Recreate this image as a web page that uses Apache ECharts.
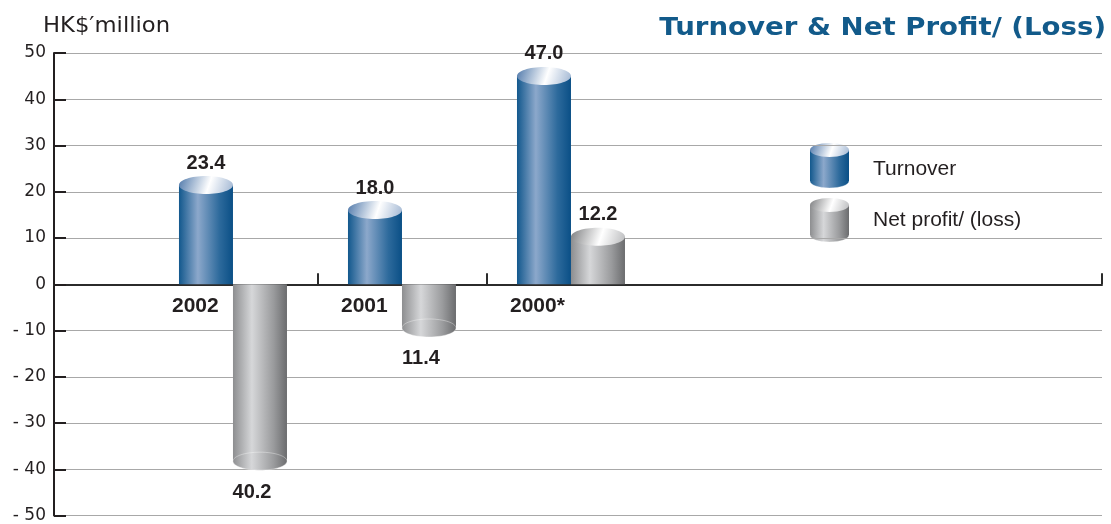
<!DOCTYPE html>
<html>
<head>
<meta charset="utf-8">
<script src="https://cdn.jsdelivr.net/npm/echarts@6/dist/echarts.min.js"></script>
<style>
  html, body { margin: 0; padding: 0; background: #fff; }
  #chart { width: 1111px; height: 524px; }
</style>
</head>
<body>
<div id="chart"></div>
<script>
// data (HK$ million)
const years = ["2002", "2001", "2000*"];
const turnover = [23.4, 18.0, 47.0];
const netProfit = [-40.2, -11.4, 12.2];
const yTicks = [-50, -40, -30, -20, -10, 0, 10, 20, 30, 40, 50];

// layout: each year slot is one unit on the x axis, blank room on the right holds the legend
const X_MIN = -1.059;
const X_MAX = 5.142;
const BAR_RATIO = 54 / 169;
const TEXT = "#231f20";

const BLUE = {
  body: [
    { offset: 0, color: "#12588d" },
    { offset: 0.35, color: "#8ca8cb" },
    { offset: 0.75, color: "#2d6a9c" },
    { offset: 1, color: "#0a4f86" }
  ],
  top: [
    { offset: 0, color: "#4f78aa" },
    { offset: 0.55, color: "#ffffff" },
    { offset: 1, color: "#9fb5d2" }
  ]
};
const GREY = {
  body: [
    { offset: 0, color: "#8d8e90" },
    { offset: 0.35, color: "#d6d7d9" },
    { offset: 0.75, color: "#9a9b9d" },
    { offset: 1, color: "#6b6c6e" }
  ],
  top: [
    { offset: 0, color: "#7d7e80" },
    { offset: 0.55, color: "#ffffff" },
    { offset: 1, color: "#b9babc" }
  ]
};

const grad = (stops, x2, y2) => new echarts.graphic.LinearGradient(0, 0, x2, y2, stops);

// cylinder pieces; cap = 'top' for bars going up, 'bottom' for bars going down, 'both' for legend
function cylinder(x, w, yTop, yBot, ry, pal, cap) {
  const cx = x + w / 2;
  const out = [];
  if (cap === "bottom") {
    out.push({ type: "rect", shape: { x: x, y: yTop, width: w, height: Math.max(0, yBot - ry - yTop) }, style: { fill: grad(pal.body, 1, 0) } });
    out.push({ type: "ellipse", shape: { cx: cx, cy: yBot - ry, rx: w / 2, ry: ry }, style: { fill: grad(pal.body, 1, 0), stroke: "rgba(255,255,255,0.35)", lineWidth: 1 } });
    return out;
  }
  const bodyBot = cap === "both" ? yBot - ry : yBot;
  if (cap === "both") {
    out.push({ type: "ellipse", shape: { cx: cx, cy: yBot - ry, rx: w / 2, ry: ry }, style: { fill: grad(pal.body, 1, 0), stroke: "rgba(255,255,255,0.3)", lineWidth: 1 } });
  }
  out.push({ type: "rect", shape: { x: x, y: yTop + ry, width: w, height: Math.max(0, bodyBot - yTop - ry) }, style: { fill: grad(pal.body, 1, 0) } });
  out.push({ type: "ellipse", shape: { cx: cx, cy: yTop + ry, rx: w / 2, ry: ry }, style: { fill: grad(pal.top, 1, 1) } });
  return out;
}

function makeRender(pal, side, showYear) {
  return function (params, api) {
    const i = api.value(0);
    const v = api.value(1);
    const base = api.coord([i, 0]);
    const end = api.coord([i, v]);
    const w = api.size([1, 0])[0] * BAR_RATIO;
    const x = side < 0 ? base[0] - w : base[0];
    const ry = w / 6;
    const children = v >= 0
      ? cylinder(x, w, end[1], base[1], ry, pal, "top")
      : cylinder(x, w, base[1], end[1], ry, pal, "bottom");
    const lx = v >= 0 ? x + w / 2 : x + w / 2 - 8;
    const ly = v >= 0 ? end[1] - 13 : end[1] + 22;
    children.push({
      type: "text",
      style: { text: Math.abs(v).toFixed(1), x: lx, y: ly, align: "center", verticalAlign: "middle", font: 'bold 20px "Liberation Sans"', fill: TEXT }
    });
    if (showYear) {
      children.push({
        type: "text",
        style: { text: years[i], x: x - 7, y: base[1] + 22, align: "left", verticalAlign: "middle", font: 'bold 21px "Liberation Sans"', fill: TEXT }
      });
    }
    return { type: "group", children: children };
  };
}

const chart = echarts.init(document.getElementById("chart"), null, { renderer: "canvas" });

const legendItems = [
  { name: "Turnover", pal: BLUE, top: 143, bot: 188, ty: 169 },
  { name: "Net profit/ (loss)", pal: GREY, top: 198, bot: 242, ty: 220 }
];
const legendGraphics = [];
legendItems.forEach(it => {
  legendGraphics.push({ type: "group", children: cylinder(810, 39, it.top, it.bot, 7, it.pal, "both") });
  legendGraphics.push({
    type: "text",
    style: { text: it.name, x: 873, y: it.ty, align: "left", verticalAlign: "middle", font: '21px "Liberation Sans"', fill: TEXT }
  });
});

const option = {
  animation: false,
  grid: { left: 54, right: 9, top: 53, bottom: 8 },
  xAxis: {
    type: "value",
    min: X_MIN,
    max: X_MAX,
    axisLine: { onZero: true, lineStyle: { color: "#2b2b2b", width: 2 } },
    axisTick: { inside: true, length: 11, customValues: [0.5, 1.5, X_MAX], lineStyle: { color: "#2b2b2b", width: 2 } },
    axisLabel: { show: false },
    splitLine: { show: false }
  },
  yAxis: {
    type: "value",
    min: yTicks[0],
    max: yTicks[yTicks.length - 1],
    interval: yTicks[1] - yTicks[0],
    axisLine: { show: true, onZero: false, lineStyle: { color: TEXT, width: 2 } },
    axisTick: { show: true, inside: true, length: 12, lineStyle: { color: TEXT, width: 2 } },
    axisLabel: {
      margin: 8,
      fontSize: 17,
      fontFamily: "DejaVu Sans",
      color: TEXT,
      formatter: v => (v < 0 ? "- " + (-v) : String(v))
    },
    splitLine: { show: true, lineStyle: { color: "#a8a8a8", width: 1 } }
  },
  graphic: [
    {
      type: "text",
      x: 43,
      y: 27,
      scaleX: 1.08,
      style: { text: "HK$′million", x: 0, y: 0, align: "left", verticalAlign: "middle", font: '21px "DejaVu Sans"', fill: TEXT }
    },
    {
      type: "text",
      x: 1106,
      y: 29,
      scaleX: 1.15,
      style: { text: "Turnover & Net Profit/ (Loss)", x: 0, y: 0, align: "right", verticalAlign: "middle", font: 'bold 24px "DejaVu Sans"', fill: "#125a8a" }
    }
  ].concat(legendGraphics),
  series: [
    {
      name: "Turnover",
      type: "custom",
      renderItem: makeRender(BLUE, -1, true),
      data: turnover.map((v, i) => [i, v]),
      z: 3
    },
    {
      name: "Net profit/ (loss)",
      type: "custom",
      renderItem: makeRender(GREY, 1, false),
      data: netProfit.map((v, i) => [i, v]),
      z: 3
    }
  ]
};

chart.setOption(option);
window.addEventListener("resize", () => chart.resize());
</script>
</body>
</html>
